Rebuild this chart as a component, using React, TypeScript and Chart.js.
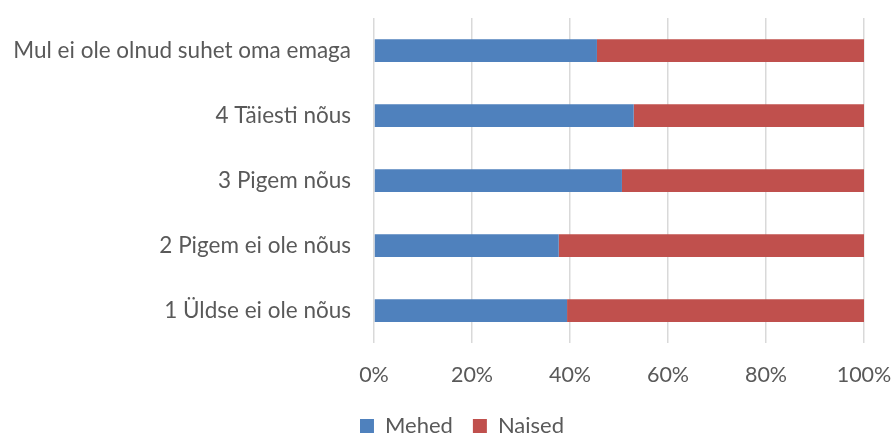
import React, { useEffect, useRef } from "react";
import { Chart, registerables } from "chart.js";

Chart.register(...registerables);

const categories = [
  "Mul ei ole olnud suhet oma emaga",
  "4 Täiesti nõus",
  "3 Pigem nõus",
  "2 Pigem ei ole nõus",
  "1 Üldse ei ole nõus",
];
const seriesNames = ["Mehed", "Naised"];
const mehed = [45.5, 53.0, 50.6, 37.7, 39.4];
const naised = [54.5, 47.0, 49.4, 62.3, 60.6];
const xTicks = [0, 20, 40, 60, 80, 100];

const FONT = "Lato";
const TEXT = "#595959";

const legendShift = {
  id: "legendShift",
  afterLayout(chart: any) {
    const lg = chart.legend;
    if (!lg) return;
    lg.top = 395;
    lg.bottom = 437;
    lg.height = lg.bottom - lg.top;
    lg.left += 30;
    lg.right += 30;
  },
};

export default function App() {
  const ref = useRef<HTMLCanvasElement>(null);
  useEffect(() => {
    const ctx = ref.current!;
    const chart = new Chart(ctx, {
      type: "bar",
      data: {
        labels: categories,
        datasets: [
          { label: seriesNames[0], data: mehed, backgroundColor: "#4F81BD", borderWidth: 0, categoryPercentage: 0.7, barPercentage: 0.5 },
          { label: seriesNames[1], data: naised, backgroundColor: "#C0504D", borderWidth: 0, categoryPercentage: 0.7, barPercentage: 0.5 },
        ],
      },
      options: {
        indexAxis: "y",
        animation: false,
        responsive: false,
        maintainAspectRatio: false,
        layout: { padding: { top: 18, right: 29, left: 0, bottom: 0 } },
        scales: {
          x: {
            stacked: true,
            min: 0,
            max: 100,
            afterBuildTicks: (scale: any) => {
              scale.ticks = xTicks.map((v) => ({ value: v }));
            },
            afterFit: (scale: any) => {
              scale.height = 46;
              scale.paddingLeft = 0;
              scale.paddingRight = 0;
            },
            ticks: {
              callback: (v: any) => v + "%",
              color: TEXT,
              font: { family: FONT, size: 21.5, lineHeight: 1.2 },
              padding: 19,
              maxRotation: 0,
            },
            grid: { color: "#D9D9D9", lineWidth: 1.5, drawTicks: false },
            border: { display: false },
          },
          y: {
            stacked: true,
            afterFit: (scale: any) => {
              scale.width = 374;
              scale.paddingTop = 0;
              scale.paddingBottom = 0;
            },
            ticks: {
              color: TEXT,
              font: { family: FONT, size: 22.5 },
              padding: 23,
            },
            grid: { display: false, drawTicks: false },
            border: { display: false },
          },
        },
        plugins: {
          legend: {
            position: "bottom",
            maxHeight: 48,
            labels: {
              color: TEXT,
              font: { family: FONT, size: 22 },
              boxWidth: 14,
              boxHeight: 14,
              padding: 20,
            },
          },
          tooltip: { enabled: false },
        },
      },
      plugins: [legendShift],
    });
    return () => chart.destroy();
  }, []);
  return (
    <div style={{ position: "fixed", left: 0, top: 0, width: 893, height: 437, background: "#fff" }}>
      <canvas ref={ref} width={893} height={437} />
    </div>
  );
}
